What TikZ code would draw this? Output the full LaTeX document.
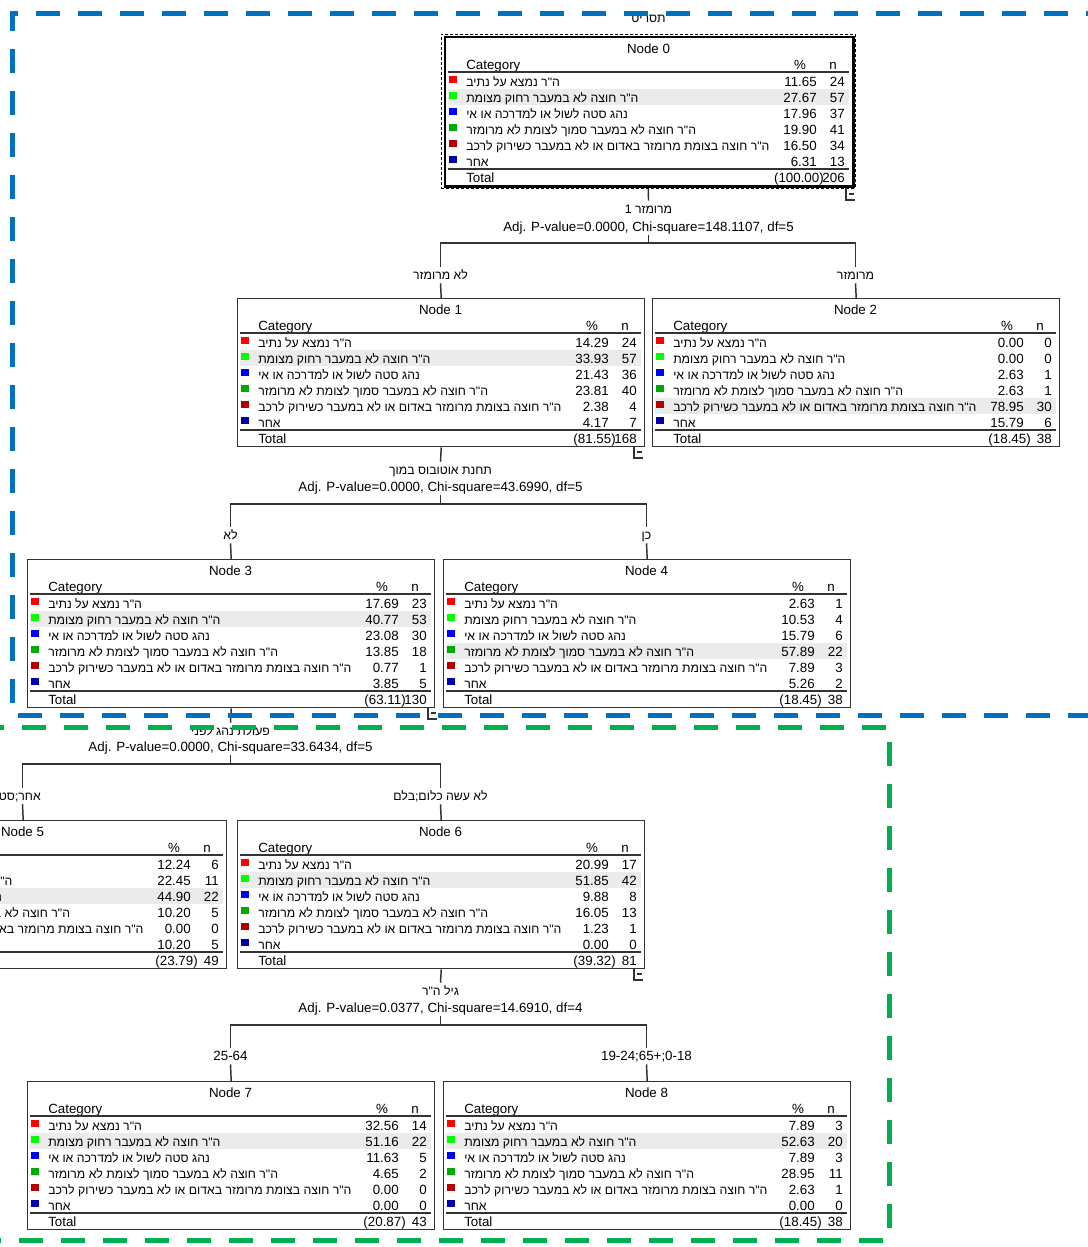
\documentclass[tikz,border=0pt]{standalone}
\usepackage{fontspec}
\setmainfont{Liberation Sans}
\newfontfamily\heb[Script=Hebrew]{Liberation Sans}
\TeXXeTstate=1
\definecolor{cRed}{RGB}{255,0,0}
\definecolor{cLime}{RGB}{0,255,0}
\definecolor{cBlue}{RGB}{0,0,255}
\definecolor{cGreen}{RGB}{0,170,0}
\definecolor{cDRed}{RGB}{180,0,0}
\definecolor{cDBlue}{RGB}{0,0,170}
\definecolor{hlgray}{RGB}{235,235,235}
\definecolor{frameblue}{RGB}{0,112,192}
\definecolor{framegreen}{RGB}{0,176,80}
\definecolor{linegray}{RGB}{51,51,51}
\newcommand\hcA{ה"ר נמצא על נתיב}
\newcommand\hcB{ה"ר חוצה לא במעבר רחוק מצומת}
\newcommand\hcC{נהג סטה לשול או למדרכה או אי}
\newcommand\hcD{ה"ר חוצה לא במעבר סמוך לצומת לא מרומזר}
\newcommand\hcE{ה"ר חוצה בצומת מרומזר באדום או לא במעבר כשירוק לרכב}
\newcommand\hcF{אחר}
\tikzset{
  txt/.style={font=\fontsize{10}{12}\selectfont, inner sep=0pt, text=black},
  hebtxt/.style={font=\heb\fontsize{9.2}{12}\selectfont, inner sep=0pt, text=black},
  box/.style={draw=linegray, line width=1.1pt, minimum width=305.25pt, minimum height=111pt, inner sep=0pt, anchor=north west},
  rowrule/.style={draw=linegray, line width=1.4pt},
  tree/.style={draw=linegray, line width=1.1pt},
  lab/.style={font=\fontsize{10}{12}\selectfont, text height=7.5pt, text depth=1.5pt, inner sep=1.5pt, text=black},
  hlab/.style={font=\heb\fontsize{9.2}{12}\selectfont, text height=7.5pt, text depth=1.5pt, inner sep=1.5pt, text=black},
  frameB/.style={draw=frameblue, line width=3.75pt, dash pattern=on 18pt off 13.5pt},
  frameG/.style={draw=framegreen, line width=3.75pt, dash pattern=on 18pt off 13.5pt},
}
% #1 name, #2 left, #3 top, #4 number, #5 highlighted row, #6 values, #7 total pct, #8 total n
\newcommand\ctable[8]{%
  \begin{scope}[shift={(#2,#3)}]
    \fill[hlgray] (3,{20+16*#5}) rectangle (404,{36+16*#5});
    \node[box] (#1) at (0,0) {};
    \node[txt, anchor=base] at (203.5,16.5) {Node #4};
    \node[txt, anchor=base west] at (21,32) {Category};
    \node[txt, anchor=base] at (355,32) {\%};
    \node[txt, anchor=base] at (388,32) {n};
    \draw[rowrule] (3,35) -- (404,35);
    \foreach \pv/\nv [count=\i] in {#6} {
      \node[txt, anchor=base east] at (372,{33+16*\i}) {\pv};
      \node[txt, anchor=base east] at (400,{33+16*\i}) {\nv};
    }
    \foreach \sqcol/\cattxt [count=\i] in {cRed/\hcA, cLime/\hcB, cBlue/\hcC, cGreen/\hcD, cDRed/\hcE, cDBlue/\hcF} {
      \fill[\sqcol] (4,{23+16*\i}) rectangle (12,{30+16*\i});
      \node[hebtxt, anchor=base west] at (21,{33+16*\i}) {\beginR\cattxt\endR};
    }
    \draw[rowrule] (3,132) -- (404,132);
    \node[txt, anchor=base west] at (21,145) {Total};
    \node[txt, anchor=base east] at (379,145) {(#7)};
    \node[txt, anchor=base east] at (400,145) {#8};
  \end{scope}}
\newcommand\colicon[2]{\draw[linegray, line width=0.8pt] (#1,#2) -- ({#1},{#2+12}) -- ({#1+9},{#2+12}) ({#1+3},{#2+6}) -- ({#1+8},{#2+6});}
\begin{document}
\begin{tikzpicture}[x=0.75pt,y=-0.75pt]
\useasboundingbox (0,0) rectangle (1088,1247);
\fill[white] (0,0) rectangle (1088,1247);

% ---------- node tables ----------
\node[hlab] (title) at (648.5,18) {\beginR תסריט\endR};
\node[draw=black, line width=0.6pt, dash pattern=on 2.25pt off 1.5pt, minimum width=310.5pt, minimum height=115.5pt, inner sep=0pt, anchor=north west] (n0o) at (441,34) {};
\ctable{n0}{445}{37}{0}{2}{11.65/24,27.67/57,17.96/37,19.90/41,16.50/34,6.31/13}{100.00}{206}
\draw[line width=2.2pt, black] (n0.north west) rectangle (n0.south east);
\ctable{n1}{237}{298}{1}{2}{14.29/24,33.93/57,21.43/36,23.81/40,2.38/4,4.17/7}{81.55}{168}
\ctable{n2}{652}{298}{2}{5}{0.00/0,0.00/0,2.63/1,2.63/1,78.95/30,15.79/6}{18.45}{38}
\ctable{n3}{27}{559}{3}{2}{17.69/23,40.77/53,23.08/30,13.85/18,0.77/1,3.85/5}{63.11}{130}
\ctable{n4}{443}{559}{4}{4}{2.63/1,10.53/4,15.79/6,57.89/22,7.89/3,5.26/2}{18.45}{38}
\ctable{n5}{-181}{820}{5}{3}{12.24/6,22.45/11,44.90/22,10.20/5,0.00/0,10.20/5}{23.79}{49}
\ctable{n6}{237}{820}{6}{2}{20.99/17,51.85/42,9.88/8,16.05/13,1.23/1,0.00/0}{39.32}{81}
\ctable{n7}{27}{1081}{7}{2}{32.56/14,51.16/22,11.63/5,4.65/2,0.00/0,0.00/0}{20.87}{43}
\ctable{n8}{443}{1081}{8}{2}{7.89/3,52.63/20,7.89/3,28.95/11,2.63/1,0.00/0}{18.45}{38}

\colicon{846}{188}
\colicon{634}{446}
\colicon{428}{707}
\colicon{634}{968}

% ---------- split 0 ----------
\node[hlab] (q0) at (648.5,209) {\beginR מרומזר 1\endR};
\node[lab] (a0) at (648.5,227) {Adj. P-value=0.0000, Chi-square=148.1107, df=5};
\coordinate (h0) at (648.5,243);
\node[hlab] (b1) at (440.5,275) {\beginR לא מרומזר\endR};
\node[hlab] (b2) at (855.5,275) {\beginR מרומזר\endR};
\draw[tree] (n0o.south) -- (q0.north);
\draw[tree] (a0.south) -- (h0);
\draw[tree] (h0) -| (b1.north);
\draw[tree] (h0) -| (b2.north);
\draw[tree] (b1.south) -- (n1.north);
\draw[tree] (b2.south) -- (n2.north);

% ---------- split 1 ----------
\node[hlab] (q1) at (440.5,470) {\beginR תחנת אוטובוס במוך\endR};
\node[lab] (a1) at (440.5,487) {Adj. P-value=0.0000, Chi-square=43.6990, df=5};
\coordinate (h1) at (440.5,504);
\node[hlab] (b3) at (230.5,535) {\beginR לא\endR};
\node[hlab] (b4) at (646.5,535) {\beginR כן\endR};
\draw[tree] (n1.south) -- (q1.north);
\draw[tree] (a1.south) -- (h1);
\draw[tree] (h1) -| (b3.north);
\draw[tree] (h1) -| (b4.north);
\draw[tree] (b3.south) -- (n3.north);
\draw[tree] (b4.south) -- (n4.north);

% ---------- split 3 ----------
\node[hlab] (q3) at (230.5,731) {\beginR פעולת נהג לפני\endR};
\node[lab] (a3) at (230.5,747) {Adj. P-value=0.0000, Chi-square=33.6434, df=5};
\coordinate (h3) at (230.5,764);
\node[hlab, anchor=east] (b5) at (43,796) {\beginR אחר;סטה\endR};
\coordinate (b5t) at (22.5,788);
\coordinate (b5b) at (22.5,804);
\node[hlab] (b6) at (440.5,796) {\beginR לא עשה כלום;בלם\endR};
\draw[tree] (n3.south) -- (q3.north);
\draw[tree] (a3.south) -- (h3);
\draw[tree] (h3) -| (b5t);
\draw[tree] (h3) -| (b6.north);
\draw[tree] (b5b) -- (n5.north);
\draw[tree] (b6.south) -- (n6.north);

% ---------- split 6 ----------
\node[hlab] (q6) at (440.5,991) {\beginR גיל ה"ר\endR};
\node[lab] (a6) at (440.5,1008) {Adj. P-value=0.0377, Chi-square=14.6910, df=4};
\coordinate (h6) at (440.5,1025);
\node[lab] (b7) at (230.5,1056) {25-64};
\node[lab] (b8) at (646.5,1056) {19-24;65+;0-18};
\draw[tree] (n6.south) -- (q6.north);
\draw[tree] (a6.south) -- (h6);
\draw[tree] (h6) -| (b7.north);
\draw[tree] (h6) -| (b8.north);
\draw[tree] (b7.south) -- (n7.north);
\draw[tree] (b8.south) -- (n8.north);

% ---------- frames ----------
\draw[frameB] (1110,13) -- (12,13) -- (12,715) -- (1110,715);
\draw[frameG] (-20,727) -- (889,727) -- (889,1240) -- (-20,1240);
\end{tikzpicture}
\end{document}
